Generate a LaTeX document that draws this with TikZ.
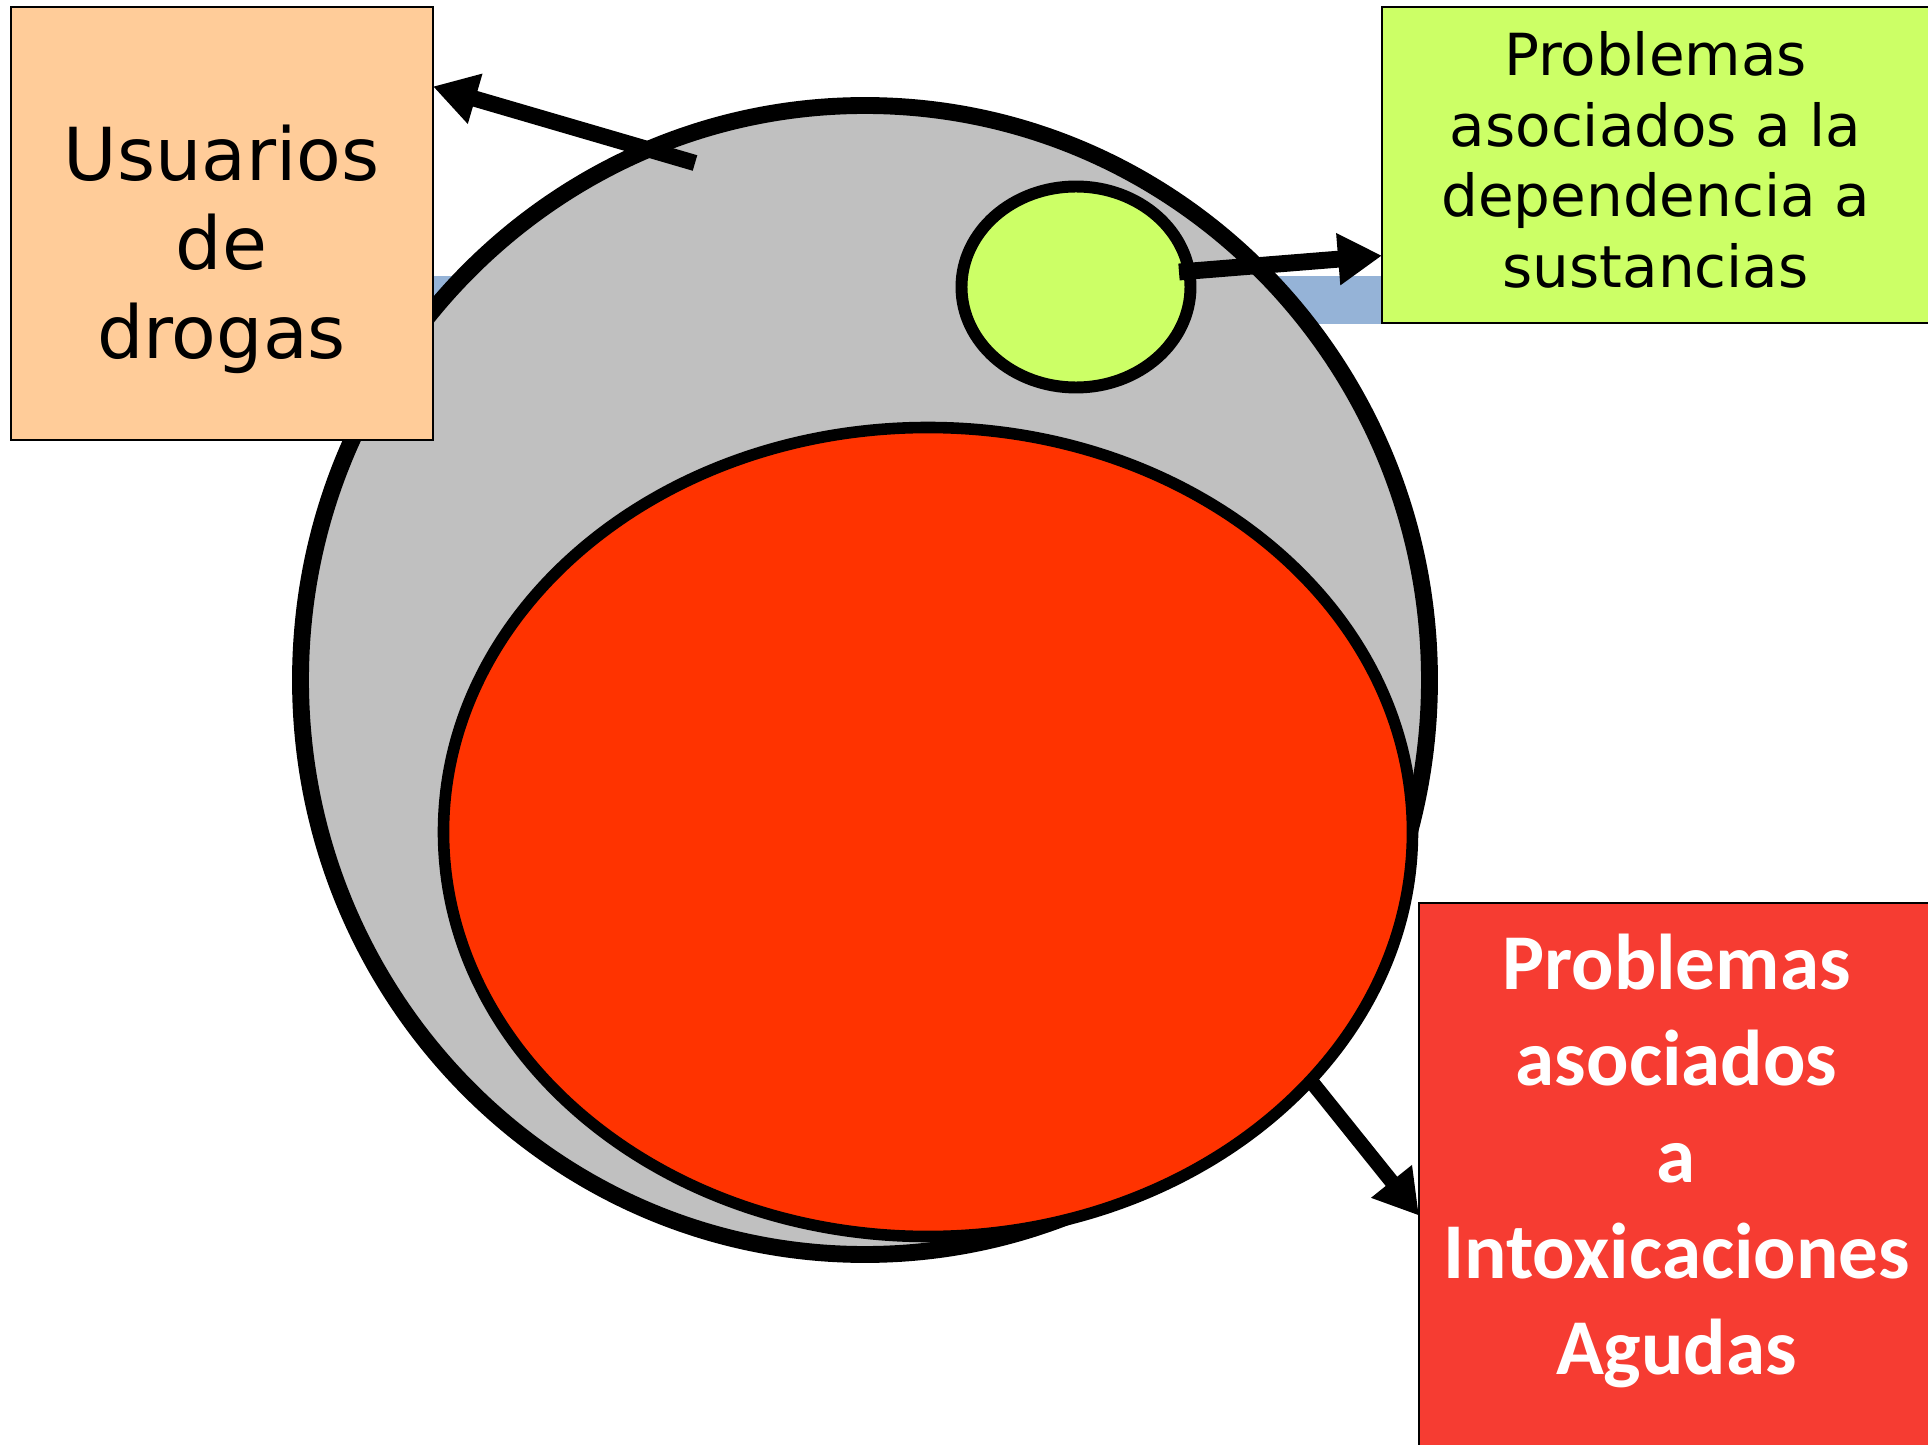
\documentclass[tikz,border=0pt]{standalone}
\usepackage{fontspec}
\newfontfamily\djv{DejaVu Sans}
\newfontfamily\carl{Carlito}
\usetikzlibrary{arrows.meta,shapes.geometric}
\definecolor{grayfill}{HTML}{C0C0C0}
\definecolor{limefill}{HTML}{CCFF66}
\definecolor{redfill}{HTML}{FF3300}
\definecolor{peach}{HTML}{FFCC99}
\definecolor{boxred}{HTML}{F63C32}
\definecolor{strip}{HTML}{95B3D7}
\begin{document}
\begin{tikzpicture}[x=0.1mm,y=-0.1mm,
  box/.style={draw=black,line width=0.6pt,rectangle,inner sep=0pt,outer sep=0pt},
  blob/.style={ellipse,draw=black,inner sep=0pt,outer sep=0pt},
  arr/.style={line width=4.6pt,-{Triangle[length=12.5pt,width=14pt]}},
  lbl/.style={align=center,inner sep=0pt}
  ]
\useasboundingbox (0,0) rectangle (1928,1445);
\clip (0,0) rectangle (1928,1445);
\fill[strip] (420,276) rectangle (1400,324);
\node[blob,fill=grayfill,line width=4.8pt,minimum width=112.9mm,minimum height=114.9mm] (pop) at (865,680) {};
\node[blob,fill=limefill,line width=3.4pt,minimum width=22.9mm,minimum height=20.1mm] (dep) at (1076,287) {};
\node[blob,fill=redfill,line width=3.3pt,minimum width=96.9mm,minimum height=80.9mm] (intox) at (928,832) {};
\node[box,fill=peach,minimum width=42.2mm,minimum height=43.3mm] (usuB) at (222,223.5) {};
\node[box,fill=limefill,minimum width=55.8mm,minimum height=31.6mm] (depB) at (1661,165) {};
\node[box,fill=boxred,minimum width=52.1mm,minimum height=55.2mm] (intB) at (1679.5,1179) {};
\node[lbl,font=\djv\fontsize{20.8pt}{25.3pt}\selectfont] (usuT) at (221.5,249) {Usuarios\\de\\drogas};
\node[lbl,font=\djv\fontsize{16.5pt}{20.1pt}\selectfont] (depT) at (1655.5,160) {Problemas\\asociados a la\\dependencia a\\sustancias};
\node[lbl,text=white,font=\carl\bfseries\fontsize{22.5pt}{27.4pt}\selectfont] (intT) at (1676.5,1161) {Problemas\\asociados\\a\\Intoxicaciones\\Agudas};
\coordinate (s1) at (695,163);
\coordinate (s2) at (1179,272);
\draw[arr] (s1) -- (usuB.33.28);
\draw[arr,line width=4.8pt] (s2) -- (depB.198.98);
\draw[arr,line width=4.2pt] (intox.-33.2) -- (intB.188.3);
\end{tikzpicture}
\end{document}
